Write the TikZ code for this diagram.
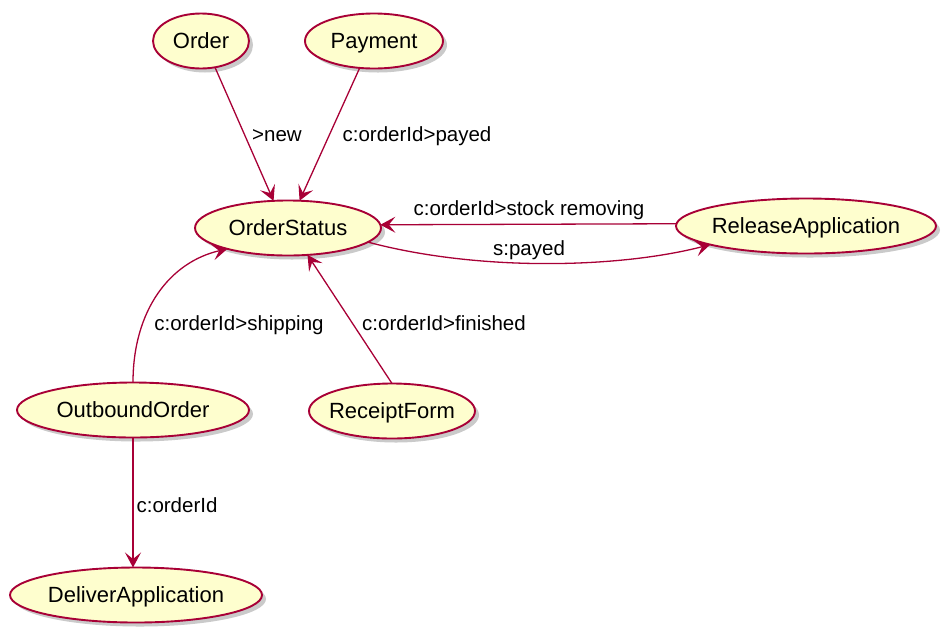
\documentclass[tikz,border=0pt]{standalone}
\usepackage{fontspec}
\setmainfont{Liberation Sans}
\usetikzlibrary{shapes.geometric,shadows,arrows.meta}
\definecolor{ucfill}{HTML}{FEFECE}
\definecolor{ucline}{HTML}{A80036}
\newcommand{\uctext}[1]{\makebox[0pt]{#1}}
\tikzset{
  uc/.style={ellipse, draw=ucline, fill=ucfill, line width=1.9pt, inner sep=0pt, outer sep=0pt,
    minimum height=55pt, font=\fontsize{22}{24}\selectfont, text height=15.8pt, text depth=0pt,
    drop shadow={shadow xshift=4pt, shadow yshift=-4pt, opacity=0.35, fill=black!60}},
  lbl/.style={font=\fontsize{20.5}{22}\selectfont, inner sep=0pt, text height=14.7pt, text depth=0pt},
  conn/.style={draw=ucline, line width=1.3pt, -{Stealth[length=15pt,width=16pt,inset=6.5pt]}},
}
\begin{document}
\begin{tikzpicture}[x=1pt,y=-1pt]
\useasboundingbox (0,0) rectangle (952,641);
\node[uc, minimum width=96pt]  (order)   at (201,41)  {\uctext{Order}};
\node[uc, minimum width=138pt] (payment) at (374,41)  {\uctext{Payment}};
\node[uc, minimum width=186pt] (os)      at (288,228) {\uctext{OrderStatus}};
\node[uc, minimum width=260pt] (rel)     at (806,226) {\uctext{ReleaseApplication}};
\node[uc, minimum width=232pt] (out)     at (133,410) {\uctext{OutboundOrder}};
\node[uc, minimum width=166pt] (rec)     at (392,411) {\uctext{ReceiptForm}};
\node[uc, minimum width=252pt] (del)     at (136,595) {\uctext{DeliverApplication}};

\draw[conn] (order.-62.6) -- (os.118.9);
\draw[conn] (payment.-118.3) -- (os.67.5);
\draw[conn] (rel.179) -- (os.2.4);
\draw[conn] (os.-10.6) .. controls (480,272) and (620,268) .. (rel.-169.1);
\draw[conn] (out.north) .. controls (133,310) and (170,262) .. (os.-161.8);
\draw[conn] (rec.north) -- (os.-54.7);
\draw[conn] (out.south) -- (del.north -| out.south);

\node[lbl] (l1) at (277,134) {>new};
\node[lbl] (l2) at (417,134) {c:orderId>payed};
\node[lbl] (l3) at (529,208) {c:orderId>stock removing};
\node[lbl] (l4) at (529,248) {s:payed};
\node[lbl] (l5) at (239,323) {c:orderId>shipping};
\node[lbl] (l6) at (444,323) {c:orderId>finished};
\node[lbl] (l7) at (177,505) {c:orderId};
\end{tikzpicture}
\end{document}
